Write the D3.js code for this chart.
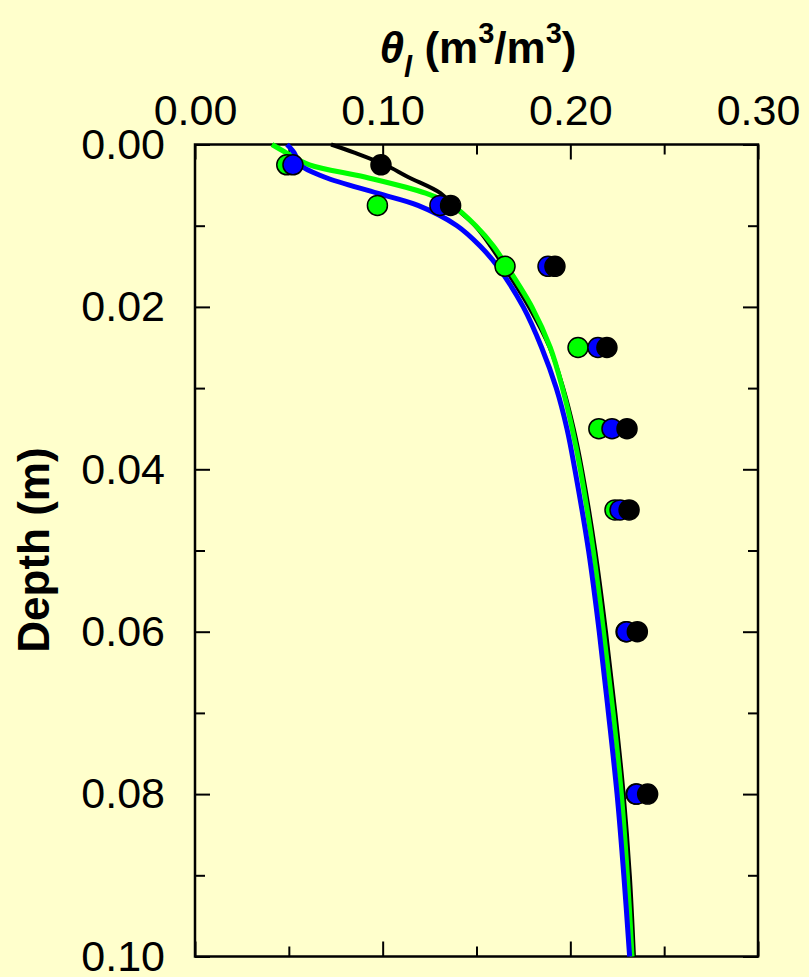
<!DOCTYPE html>
<meta charset="utf-8">
<style>
    html, body { margin: 0; padding: 0; background: #ffffcc; }
    svg { display: block; background: #ffffcc; }
    text { font-family: "Liberation Sans", Arial, sans-serif; fill: #000; }
</style>

<script src="https://d3js.org/d3.v7.min.js"></script>

<svg id="chart" width="809" height="977"></svg>

<script>

// Data ------------------------------------------------------------------

// measured points (depth, m)
var pointDepth = [0.0025, 0.0075, 0.015, 0.025, 0.035, 0.045, 0.06, 0.08];
var greenPoints = [0.0489, 0.0972, 0.1652, 0.2041, 0.2152, 0.2238, 0.2297, 0.2350];
var bluePoints  = [0.0522, 0.1305, 0.1881, 0.2147, 0.2222, 0.2265, 0.2300, 0.2353];
var blackPoints = [0.0991, 0.1362, 0.1918, 0.2195, 0.2302, 0.2313, 0.2357, 0.2412];

// simulated profiles
var curveDepth = [0, 0.001, 0.0025, 0.004, 0.006, 0.0075, 0.01, 0.0125, 0.015, 0.02,
                  0.025, 0.03, 0.035, 0.04, 0.05, 0.06, 0.07, 0.08, 0.09, 0.10];
var greenCurve = [0.0410, 0.0485, 0.0610, 0.0905, 0.1229, 0.1371, 0.1496, 0.1590, 0.1662, 0.1795,
                  0.1893, 0.1958, 0.2010, 0.2053, 0.2122, 0.2177, 0.2228, 0.2272, 0.2304, 0.2329];
var blueCurve  = [0.0490, 0.0528, 0.0559, 0.0689, 0.0971, 0.1188, 0.1396, 0.1519, 0.1612, 0.1749,
                  0.1847, 0.1925, 0.1982, 0.2024, 0.2097, 0.2154, 0.2203, 0.2249, 0.2285, 0.2316];
var blackCurve = [0.0725, 0.0849, 0.1012, 0.1135, 0.1308, 0.1372, 0.1492, 0.1575, 0.1645, 0.1780,
                  0.1890, 0.1962, 0.2018, 0.2062, 0.2133, 0.2190, 0.2240, 0.2284, 0.2317, 0.2339];

var xMajor = [0, 0.10, 0.20, 0.30];
var xMinor = [0.05, 0.15, 0.25];
var yMajor = [0, 0.02, 0.04, 0.06, 0.08, 0.10];
var yMinor = [0.01, 0.03, 0.05, 0.07, 0.09];


// Setup -------------------------------------------------------------------

var svg = d3.select('svg#chart');

var plotLeft = 195, plotRight = 758, plotTop = 144.5, plotBottom = 956.5;

var x = d3.scaleLinear().domain([0, 0.30]).range([plotLeft, plotRight]);
var y = d3.scaleLinear().domain([0, 0.10]).range([plotTop, plotBottom]);

var fmt = d3.format('.2f');
var majorLen = 15, minorLen = 10;


// Axes (ticks inward on all four sides)

function styleAxis(g) {
    g.select('.domain').remove();
    g.selectAll('.tick line').attr('stroke', '#000').attr('stroke-width', 2);
    g.selectAll('.tick text').style('font-size', '43px');
}

function addAxis(axis, tx, ty) {
    svg.append('g').attr('transform', 'translate(' + tx + ',' + ty + ')')
        .call(axis)
        .call(styleAxis);
}

addAxis(d3.axisTop(x).tickValues(xMajor).tickFormat(fmt)
    .tickSizeInner(-majorLen).tickSizeOuter(0).tickPadding(20), 0, plotTop);
addAxis(d3.axisTop(x).tickValues(xMinor).tickFormat('')
    .tickSizeInner(-minorLen).tickSizeOuter(0), 0, plotTop);

addAxis(d3.axisBottom(x).tickValues(xMajor).tickFormat('')
    .tickSizeInner(-majorLen).tickSizeOuter(0), 0, plotBottom);
addAxis(d3.axisBottom(x).tickValues(xMinor).tickFormat('')
    .tickSizeInner(-minorLen).tickSizeOuter(0), 0, plotBottom);

addAxis(d3.axisLeft(y).tickValues(yMajor).tickFormat(fmt)
    .tickSizeInner(-majorLen).tickSizeOuter(0).tickPadding(30), plotLeft, 0);
addAxis(d3.axisLeft(y).tickValues(yMinor).tickFormat('')
    .tickSizeInner(-minorLen).tickSizeOuter(0), plotLeft, 0);

addAxis(d3.axisRight(y).tickValues(yMajor).tickFormat('')
    .tickSizeInner(-majorLen).tickSizeOuter(0), plotRight, 0);
addAxis(d3.axisRight(y).tickValues(yMinor).tickFormat('')
    .tickSizeInner(-minorLen).tickSizeOuter(0), plotRight, 0);

// frame
svg.append('rect')
    .attr('x', plotLeft).attr('y', plotTop)
    .attr('width', plotRight - plotLeft).attr('height', plotBottom - plotTop)
    .attr('fill', 'none').attr('stroke', '#000').attr('stroke-width', 2.5);


// Curves

var lineFn = d3.line()
    .curve(d3.curveCatmullRom.alpha(0.5))
    .x(function (d) { return x(d[0]); })
    .y(function (d) { return y(d[1]); });

var curves = [
    { values: blackCurve, color: '#000000', width: 4 },
    { values: greenCurve, color: '#00ff00', width: 5 },
    { values: blueCurve,  color: '#0000ff', width: 5 }
];

curves.forEach(function (c) {
    svg.append('path')
        .datum(c.values.map(function (v, i) { return [v, curveDepth[i]]; }))
        .attr('fill', 'none')
        .attr('stroke', c.color)
        .attr('stroke-width', c.width)
        .attr('d', lineFn);
});


// Points

var pointSets = [
    { values: greenPoints, color: '#00ff00' },
    { values: bluePoints,  color: '#0000ff' },
    { values: blackPoints, color: '#000000' }
];

pointSets.forEach(function (s) {
    svg.append('g').selectAll('circle')
        .data(s.values.map(function (v, i) { return [v, pointDepth[i]]; }))
        .enter().append('circle')
        .attr('cx', function (d) { return x(d[0]); })
        .attr('cy', function (d) { return y(d[1]); })
        .attr('r', 10)
        .attr('fill', s.color)
        .attr('stroke', '#000')
        .attr('stroke-width', 1.5);
});


// Titles

var title = svg.append('text')
    .attr('x', 478).attr('y', 63)
    .attr('text-anchor', 'middle')
    .style('font-size', '44px')
    .style('font-weight', 'bold');
title.append('tspan').style('font-style', 'italic').text('θ');
title.append('tspan').style('font-style', 'italic').style('font-size', '29px')
    .attr('dy', 14).text('l');
title.append('tspan').attr('dy', -14).text(' (m');
title.append('tspan').style('font-size', '29px').attr('dy', -20).text('3');
title.append('tspan').attr('dy', 20).text('/m');
title.append('tspan').style('font-size', '29px').attr('dy', -20).text('3');
title.append('tspan').attr('dy', 20).text(')');

svg.append('text')
    .attr('transform', 'translate(49,550) rotate(-90)')
    .attr('text-anchor', 'middle')
    .style('font-size', '44px')
    .style('font-weight', 'bold')
    .text('Depth (m)');

</script>
